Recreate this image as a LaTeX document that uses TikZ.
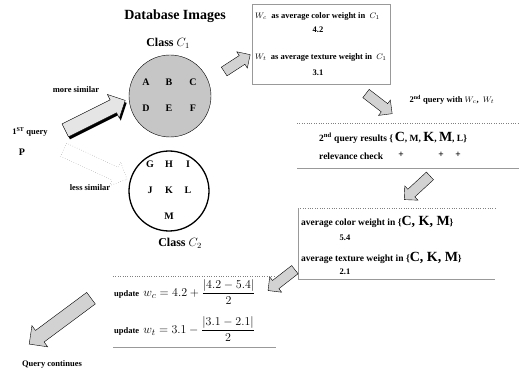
\documentclass[tikz,border=0pt]{standalone}
\usepackage{amsmath}
\usepackage{fontspec}
\setmainfont{Liberation Serif}
\usetikzlibrary{shapes.arrows,shadows}
\newcommand{\grandes}{\fontsize{14}{15}\selectfont}

\begin{document}
\begin{tikzpicture}[x=1pt, y=-1pt,
  txt/.style={font=\fontsize{8.5}{9}\selectfont\bfseries, inner sep=1pt},
  txtg/.style={font=\fontsize{9.5}{10}\selectfont\bfseries, inner sep=1pt},
  letra/.style={font=\fontsize{10}{11}\selectfont\bfseries},
  clase/.style={font=\fontsize{12}{13}\selectfont\bfseries},
  flecha/.style={single arrow, draw, fill=gray!35, inner sep=0pt,
    text height=5pt, text depth=5pt, single arrow head extend=4.5pt},
  grande/.style={flecha, text height=7pt, text depth=7pt,
    single arrow head extend=6pt},
  sombra/.style={grande, fill=gray!20,
    drop shadow={shadow xshift=1.5pt, shadow yshift=-2.5pt, fill=black, opacity=1}},
  punteada/.style={grande, fill=white, draw=gray, dotted},
  linea/.style={draw=gray!80, thin},
  puntos/.style={draw=gray, dotted, thin}
]
  \useasboundingbox (0,0) rectangle (519,374);

  % clases
  \node[font=\fontsize{14}{15}\selectfont\bfseries] (titulo) at (175,16) {Database Images};
  \node[clase] (c1) at (168,43) {Class $C_1$};
  \node[circle, draw, fill=gray!45, minimum size=82pt] (k1) at (170,96) {};
  \node[letra] (A) at (146,82)  {A};
  \node[letra] (B) at (169,82)  {B};
  \node[letra] (C) at (193,82)  {C};
  \node[letra] (D) at (146,108) {D};
  \node[letra] (E) at (169,108) {E};
  \node[letra] (F) at (193,108) {F};

  \node[circle, draw, line width=1.3pt, minimum size=80pt] (k2) at (169,191) {};
  \node[letra] (G) at (150,164) {G};
  \node[letra] (H) at (169,164) {H};
  \node[letra] (I) at (188,164) {I};
  \node[letra] (J) at (150,190) {J};
  \node[letra] (K) at (169,190) {K};
  \node[letra] (L) at (188,190) {L};
  \node[letra] (M) at (169,216) {M};
  \node[clase] (c2) at (180,243) {Class $C_2$};

  % primera consulta
  \node[txt] (mas) at (76,90) {more similar};
  \node[txt] (q1) at (30,132) {1\textsuperscript{ST} query};
  \node[letra] (P) at (22,152) {P};
  \node[txt] (menos) at (90,188) {less similar};
  \node[sombra, rotate=26.6, minimum height=67pt] (fm) at (92,117) {};
  \node[punteada, rotate=-25, minimum height=70pt] (fl) at (92,163) {};

  % pesos de C1
  \node[flecha, rotate=33, minimum height=31pt] (f1) at (235,64.5) {};
  \draw[linea] (252,4) rectangle (390,84);
  \node[txt, anchor=west] (wc) at (254,16) {$W_c$\ \ as average color weight in\ \ $C_1$};
  \node[txt] (v1) at (318,30) {4.2};
  \node[txt, anchor=west] (wt) at (254,57) {$W_t$\ \ as average texture weight in\ \ $C_1$};
  \node[txt] (v2) at (318,73) {3.1};

  % segunda consulta
  \node[flecha, rotate=-37.6, minimum height=33pt] (f2) at (377,102) {};
  \node[txt] (q2) at (452,100) {2\textsuperscript{nd} query with $W_c$,\ \ $W_t$};
  \draw[puntos] (297,123) -- (519,123);
  \node[txtg, anchor=west] (res) at (318,138) {2\textsuperscript{nd} query results \{\,%
    {\grandes C}, M,\ {\grandes K}, {\grandes M}, L\}};
  \node[txtg, anchor=west] (rel) at (318,156) {relevance check};
  \node[txtg] (m1) at (401,155) {+};
  \node[txtg] (m2) at (441,155) {+};
  \node[txtg] (m3) at (458,155) {+};
  \draw[linea] (297,168) -- (519,168);

  % promedios de los relevantes
  \node[flecha, rotate=-137.3, minimum height=35pt] (f3) at (419,186) {};
  \draw[puntos] (298,208) -- (495,208);
  \draw[linea] (298,208) -- (298,279) -- (495,279);
  \node[txtg, anchor=west] (pc) at (300,222) {average color weight in
    \{{\grandes C, K, M}\}};
  \node[txt] (v3) at (345,238) {5.4};
  \node[txtg, anchor=west] (pt) at (300,258) {average texture weight in
    \{{\grandes C, K, M}\}};
  \node[txt] (v4) at (345,272) {2.1};

  % actualizacion
  \node[flecha, rotate=-142.1, minimum height=34pt] (f4) at (283.5,278.5) {};
  \draw[puntos] (113,276) -- (275,276);
  \node[txt, anchor=west] (u1) at (113,292) {update\ \
    {\fontsize{12.5}{13}\selectfont$w_c = 4.2 + \dfrac{|4.2-5.4|}{2}$}};
  \node[txt, anchor=west] (u2) at (113,329) {update\ \
    {\fontsize{12.5}{13}\selectfont$w_t = 3.1 - \dfrac{|3.1-2.1|}{2}$}};
  \draw[linea] (113,347) -- (276,347);

  \node[grande, rotate=-143.4, minimum height=77pt] (f5) at (63,319) {};
  \node[txt] (fin) at (52,364) {Query continues};
\end{tikzpicture}
\end{document}
